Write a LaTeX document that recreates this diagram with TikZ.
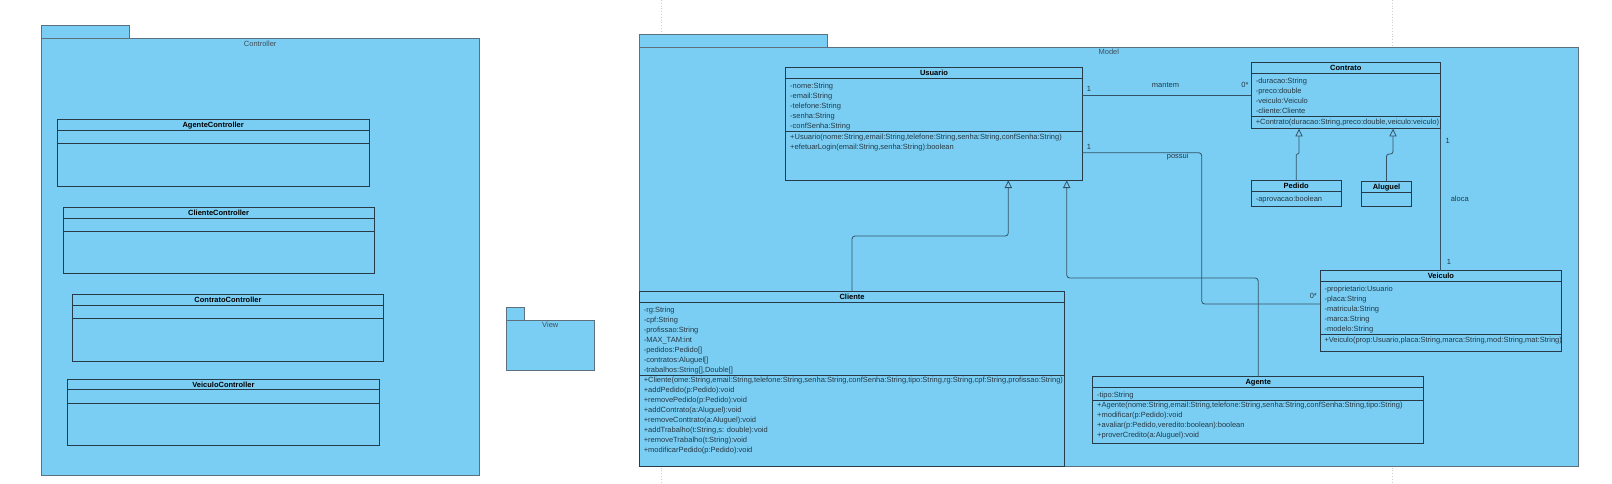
\documentclass[tikz,border=0pt]{standalone}
\usepackage{fontspec}
\setmainfont{Liberation Sans}
\usetikzlibrary{arrows.meta}
\definecolor{bluefill}{RGB}{122,206,244}
\definecolor{clsborder}{RGB}{38,58,72}
\definecolor{pkgborder}{RGB}{92,112,126}
\definecolor{linecol}{RGB}{52,82,102}
\definecolor{txtcol}{RGB}{38,56,68}
\definecolor{pagecol}{RGB}{205,205,205}
\begin{document}
\begin{tikzpicture}[x=1pt,y=-1pt,
  font=\fontsize{7.5}{9}\selectfont,
  cls/.style={draw=clsborder, line width=0.8pt, fill=bluefill, inner sep=0pt, outer sep=0pt, anchor=north west},
  pkg/.style={draw=pkgborder, line width=0.8pt, fill=bluefill, inner sep=0pt, outer sep=0pt, anchor=north west},
  cname/.style={font=\fontsize{7.5}{9}\selectfont\bfseries, text=black, inner sep=0pt, anchor=base},
  mem/.style={text=txtcol, inner sep=0pt, anchor=base west},
  sepline/.style={draw=clsborder, line width=0.8pt},
  assoc/.style={draw=linecol, line width=0.8pt},
  gen/.style={assoc, -{Triangle[open, length=7.7pt, width=7.3pt]}},
  lbl/.style={text=txtcol, inner sep=0pt},
  pkglbl/.style={text=pkgborder!70!black, inner sep=0pt, anchor=base}]
\useasboundingbox (0,0) rectangle (1612,483);
\fill[white] (0,0) rectangle (1612,483);
% page break guides
\draw[pagecol, dotted, line width=0.8pt] (661.7,0) -- (661.7,483);
\draw[pagecol, dotted, line width=0.8pt] (1392.3,0) -- (1392.3,483);

% ---------------- Controller package
\node[pkg, minimum width=87.6pt, minimum height=12.7pt] (ctab) at (41.3,25.3) {};
\node[pkg, minimum width=437.9pt, minimum height=437.7pt] (controller) at (41.3,38) {};
\node[pkglbl] (controllerlbl) at (260.2,46) {Controller};

\node[cls, minimum width=311.7pt, minimum height=66.6pt] (agentectl) at (57.3,119.7) {};
\draw[sepline] (57.3,130.7) -- (369,130.7);
\draw[sepline] (57.3,143.7) -- (369,143.7);
\node[cname] (agentectln) at (213.2,127.9) {AgenteController};

\node[cls, minimum width=310.9pt, minimum height=66.4pt] (clientectl) at (63.1,207.3) {};
\draw[sepline] (63.1,218.3) -- (374,218.3);
\draw[sepline] (63.1,231) -- (374,231);
\node[cname] (clientectln) at (218.6,215.5) {ClienteController};

\node[cls, minimum width=311.3pt, minimum height=66.3pt] (contratoctl) at (72.3,294.7) {};
\draw[sepline] (72.3,305.3) -- (383.6,305.3);
\draw[sepline] (72.3,318.7) -- (383.6,318.7);
\node[cname] (contratoctln) at (228,302.7) {ContratoController};

\node[cls, minimum width=311.3pt, minimum height=66.3pt] (veiculoctl) at (67.7,379) {};
\draw[sepline] (67.7,389.7) -- (379,389.7);
\draw[sepline] (67.7,403.3) -- (379,403.3);
\node[cname] (veiculoctln) at (223.4,387.1) {VeiculoController};

% ---------------- View package
\node[pkg, minimum width=17.6pt, minimum height=12.6pt] (vtab) at (506.7,307.7) {};
\node[pkg, minimum width=87.2pt, minimum height=49.7pt] (view) at (506.7,320.3) {};
\node[pkglbl] (viewlbl) at (550.3,327.7) {View};

% ---------------- Model package
\node[pkg, minimum width=188pt, minimum height=13pt] (mtab) at (639.3,34.3) {};
\node[pkg, minimum width=939pt, minimum height=419.4pt] (model) at (639.3,47.3) {};
\node[pkglbl] (modellbl) at (1108.8,54.7) {Model};

% Usuario
\node[cls, minimum width=296.6pt, minimum height=113pt] (usuario) at (785.7,67.3) {};
\draw[sepline] (785.7,78.3) -- (1082.3,78.3);
\draw[sepline] (785.7,131) -- (1082.3,131);
\node[cname] (usuarion) at (934,75.3) {Usuario};
\node[mem] (u1) at (790,88) {-nome:String};
\node[mem] (u2) at (790,98) {-email:String};
\node[mem] (u3) at (790,108) {-telefone:String};
\node[mem] (u4) at (790,118) {-senha:String};
\node[mem] (u5) at (790,128) {-confSenha:String};
\node[mem] (u6) at (790,139) {+Usuario(nome:String,email:String,telefone:String,senha:String,confSenha:String)};
\node[mem] (u7) at (790,149) {+efetuarLogin(email:String,senha:String):boolean};

% Contrato
\node[cls, minimum width=189pt, minimum height=66pt] (contrato) at (1251.3,62.7) {};
\draw[sepline] (1251.3,73.3) -- (1440.3,73.3);
\draw[sepline] (1251.3,116.7) -- (1440.3,116.7);
\node[cname] (contraton) at (1345.8,70.7) {Contrato};
\node[mem] (c1) at (1255.6,83.2) {-duracao:String};
\node[mem] (c2) at (1255.6,93.2) {-preco:double};
\node[mem] (c3) at (1255.6,103.2) {-veiculo:Veiculo};
\node[mem] (c4) at (1255.6,113.2) {-cliente:Cliente};
\node[mem] (c5) at (1255.6,124.7) {+Contrato(duracao:String,preco:double,veiculo:veiculo)};

% Pedido
\node[cls, minimum width=89.7pt, minimum height=26.4pt] (pedido) at (1251.3,180.3) {};
\draw[sepline] (1251.3,191.3) -- (1341,191.3);
\node[cname] (pedidon) at (1296.2,188.5) {Pedido};
\node[mem] (p1) at (1255.6,201) {-aprovacao:boolean};

% Aluguel
\node[cls, minimum width=50.4pt, minimum height=25.4pt] (aluguel) at (1361.3,181.3) {};
\draw[sepline] (1361.3,192) -- (1411.7,192);
\node[cname] (aluguelnm) at (1386.5,189.4) {Aluguel};

% Veiculo
\node[cls, minimum width=241.7pt, minimum height=80.6pt] (veiculo) at (1320,270.7) {};
\draw[sepline] (1320,281.3) -- (1561.7,281.3);
\draw[sepline] (1320,334) -- (1561.7,334);
\node[cname] (veiculon) at (1440.9,278.7) {Veiculo};
\node[mem] (v1) at (1324.3,291) {-proprietario:Usuario};
\node[mem] (v2) at (1324.3,301) {-placa:String};
\node[mem] (v3) at (1324.3,311) {-matricula:String};
\node[mem] (v4) at (1324.3,321) {-marca:String};
\node[mem] (v5) at (1324.3,331) {-modelo:String};
\node[mem] (v6) at (1324.3,342) {+Veiculo(prop:Usuario,placa:String,marca:String,mod:String,mat:String)};

% Cliente
\node[cls, minimum width=425.4pt, minimum height=175pt] (cliente) at (639.3,291.7) {};
\draw[sepline] (639.3,302.7) -- (1064.7,302.7);
\draw[sepline] (639.3,375.7) -- (1064.7,375.7);
\node[cname] (clienten) at (852,299.9) {Cliente};
\node[mem] (k1) at (643.6,312) {-rg:String};
\node[mem] (k2) at (643.6,322) {-cpf:String};
\node[mem] (k3) at (643.6,332) {-profissao:String};
\node[mem] (k4) at (643.6,342) {-MAX\_TAM:int};
\node[mem] (k5) at (643.6,352) {-pedidos:Pedido[]};
\node[mem] (k6) at (643.6,362) {-contratos:Aluguel[]};
\node[mem] (k7) at (643.6,372) {-trabalhos:String[],Double[]};
\node[mem] (k8) at (643.6,382.7) {+Cliente(ome:String,email:String,telefone:String,senha:String,confSenha:String,tipo:String,rg:String,cpf:String,profissao:String)};
\node[mem] (k9) at (643.6,392.7) {+addPedido(p:Pedido):void};
\node[mem] (k10) at (643.6,402.7) {+removePedido(p:Pedido):void};
\node[mem] (k11) at (643.6,412.7) {+addContrato(a:Aluguel):void};
\node[mem] (k12) at (643.6,422.7) {+removeConttrato(a:Aluguel):void};
\node[mem] (k13) at (643.6,432.7) {+addTrabalho(t:String,s: double):void};
\node[mem] (k14) at (643.6,442.7) {+removeTrabalho(t:String):void};
\node[mem] (k15) at (643.6,452.7) {+modificarPedido(p:Pedido):void};

% Agente
\node[cls, minimum width=331pt, minimum height=66.6pt] (agente) at (1092.7,376.7) {};
\draw[sepline] (1092.7,387.7) -- (1423.7,387.7);
\draw[sepline] (1092.7,400.3) -- (1423.7,400.3);
\node[cname] (agenten) at (1258.2,384.9) {Agente};
\node[mem] (a1) at (1097,397) {-tipo:String};
\node[mem] (a2) at (1097,407.7) {+Agente(nome:String,email:String,telefone:String,senha:String,confSenha:String,tipo:String)};
\node[mem] (a3) at (1097,417.7) {+modificar(p:Pedido):void};
\node[mem] (a4) at (1097,427.7) {+avaliar(p:Pedido,veredito:boolean):boolean};
\node[mem] (a5) at (1097,437.7) {+proverCredito(a:Aluguel):void};

% ---------------- connectors
% mantem
\draw[assoc] ([yshift=-28.2pt]usuario.north east) -- ([yshift=-32.8pt]contrato.north west);
\node[lbl] (m1) at (1089,89) {1};
\node[lbl] (m2) at (1165.5,85.3) {mantem};
\node[lbl] (m3) at (1245,85) {0*};
% possui
\draw[assoc, rounded corners=3pt] ([yshift=-85.4pt]usuario.north east) -| (1201.7,304) -- ([yshift=-33.3pt]veiculo.north west);
\node[lbl] (p1l) at (1089,147.3) {1};
\node[lbl] (p2l) at (1177.7,156.2) {possui};
\node[lbl] (p3l) at (1313.3,296) {0*};
% aloca
\draw[assoc] (contrato.south east) -- (contrato.south east |- veiculo.north);
\node[lbl] (al1) at (1447.7,141.3) {1};
\node[lbl] (al2) at (1459.7,199.3) {aloca};
\node[lbl] (al3) at (1449,262.3) {1};
% generalizations
\draw[gen, rounded corners=3pt] (cliente.north) |- (1008.3,236) -- ([xshift=222.6pt]usuario.south west);
\draw[gen, rounded corners=3pt] (agente.north) |- (1066.7,278) -- ([xshift=281pt]usuario.south west);
\draw[gen, rounded corners=1.2pt] (pedido.north) |- (1299,154) -- ([xshift=47.7pt]contrato.south west);
\draw[gen, rounded corners=2.5pt] (aluguel.north) |- (1393,154) -- ([xshift=141.7pt]contrato.south west);
\end{tikzpicture}
\end{document}
